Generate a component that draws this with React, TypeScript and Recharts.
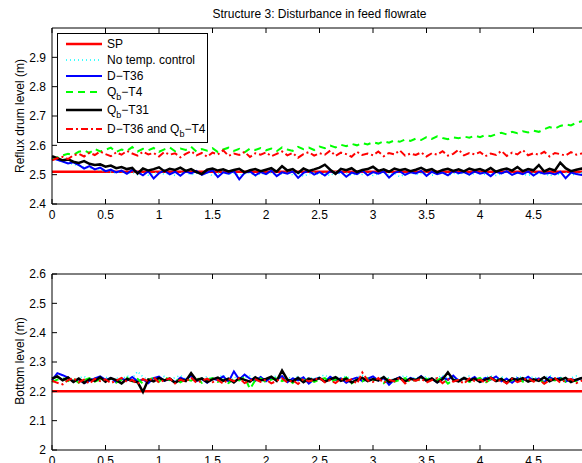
import React from 'react';
import { LineChart, Line, XAxis, YAxis } from 'recharts';

const FONT = '"Liberation Sans", Arial, Helvetica, sans-serif';

// time axis (h)
const timeHours = [
  0, 0.05, 0.1, 0.15, 0.2, 0.25, 0.3, 0.35, 0.4, 0.45,
  0.5, 0.55, 0.6, 0.65, 0.7, 0.75, 0.8, 0.85, 0.9, 0.95,
  1, 1.05, 1.1, 1.15, 1.2, 1.25, 1.3, 1.35, 1.4, 1.45,
  1.5, 1.55, 1.6, 1.65, 1.7, 1.75, 1.8, 1.85, 1.9, 1.95,
  2, 2.05, 2.1, 2.15, 2.2, 2.25, 2.3, 2.35, 2.4, 2.45,
  2.5, 2.55, 2.6, 2.65, 2.7, 2.75, 2.8, 2.85, 2.9, 2.95,
  3, 3.05, 3.1, 3.15, 3.2, 3.25, 3.3, 3.35, 3.4, 3.45,
  3.5, 3.55, 3.6, 3.65, 3.7, 3.75, 3.8, 3.85, 3.9, 3.95,
  4, 4.05, 4.1, 4.15, 4.2, 4.25, 4.3, 4.35, 4.4, 4.45,
  4.5, 4.55, 4.6, 4.65, 4.7, 4.75, 4.8, 4.85, 4.9, 4.95,
  5,
];

// the 5 h tick sits just past the right edge of the picture
const xTicks = [0, 0.5, 1, 1.5, 2, 2.5, 3, 3.5, 4, 4.5];
const topYTicks = [2.4, 2.5, 2.6, 2.7, 2.8, 2.9];
const bottomYTicks = [2, 2.1, 2.2, 2.3, 2.4, 2.5, 2.6];

const topSetpoint = 2.51;
const bottomSetpoint = 2.2;

// reflux drum level (m)
const topNoControl = [
  2.557, 2.549, 2.544, 2.539, 2.535, 2.530, 2.526, 2.522, 2.519, 2.515,
  2.512, 2.509, 2.506, 2.511, 2.503, 2.508, 2.500, 2.507, 2.498, 2.505,
  2.509, 2.501, 2.506, 2.497, 2.504, 2.510, 2.499, 2.505, 2.502, 2.508,
  2.496, 2.504, 2.509, 2.500, 2.506, 2.498, 2.503, 2.507, 2.495, 2.505,
  2.501, 2.508, 2.497, 2.504, 2.510, 2.499, 2.506, 2.494, 2.503, 2.507,
  2.500, 2.505, 2.496, 2.509, 2.502, 2.506, 2.498, 2.504, 2.501, 2.508,
  2.497, 2.503, 2.507, 2.499, 2.505, 2.493, 2.502, 2.508, 2.500, 2.504,
  2.506, 2.498, 2.503, 2.509, 2.496, 2.505, 2.501, 2.507, 2.499, 2.504,
  2.508, 2.500, 2.505, 2.497, 2.503, 2.510, 2.499, 2.506, 2.502, 2.497,
  2.505, 2.501, 2.508, 2.495, 2.504, 2.500, 2.507, 2.498, 2.503, 2.506,
  2.501,
];
const topDT36 = [
  2.558, 2.551, 2.545, 2.538, 2.542, 2.533, 2.521, 2.529, 2.518, 2.524,
  2.512, 2.517, 2.508, 2.514, 2.503, 2.516, 2.509, 2.498, 2.512, 2.487,
  2.505, 2.514, 2.501, 2.510, 2.496, 2.511, 2.504, 2.513, 2.499, 2.507,
  2.515, 2.492, 2.508, 2.503, 2.512, 2.484, 2.506, 2.511, 2.498, 2.509,
  2.502, 2.514, 2.495, 2.508, 2.503, 2.511, 2.489, 2.506, 2.513, 2.500,
  2.509, 2.497, 2.512, 2.504, 2.510, 2.493, 2.507, 2.502, 2.514, 2.498,
  2.509, 2.503, 2.511, 2.490, 2.506, 2.512, 2.499, 2.508, 2.504, 2.513,
  2.496, 2.510, 2.502, 2.507, 2.498, 2.512, 2.505, 2.509, 2.500, 2.511,
  2.503, 2.508, 2.495, 2.510, 2.504, 2.512, 2.499, 2.507, 2.502, 2.511,
  2.497, 2.509, 2.503, 2.506, 2.501, 2.510, 2.488, 2.507, 2.502, 2.499,
  2.506,
];
const topQbT4 = [
  2.551, 2.559, 2.566, 2.571, 2.568, 2.578, 2.583, 2.574, 2.588, 2.579,
  2.585, 2.592, 2.577, 2.586, 2.581, 2.594, 2.579, 2.588, 2.583, 2.591,
  2.578, 2.586, 2.593, 2.580, 2.589, 2.584, 2.595, 2.579, 2.587, 2.582,
  2.590, 2.577, 2.586, 2.592, 2.581, 2.588, 2.576, 2.589, 2.584, 2.591,
  2.583, 2.589, 2.580, 2.593, 2.586, 2.581, 2.595, 2.587, 2.592, 2.584,
  2.596, 2.590, 2.599, 2.593, 2.602, 2.597, 2.605, 2.600, 2.608, 2.603,
  2.611, 2.606, 2.614, 2.609, 2.617, 2.612, 2.620, 2.615, 2.623, 2.618,
  2.628, 2.622, 2.631, 2.625, 2.621, 2.627, 2.624, 2.630, 2.626, 2.633,
  2.628, 2.635, 2.631, 2.638, 2.643, 2.637, 2.646, 2.641, 2.648, 2.644,
  2.650, 2.646, 2.655, 2.662, 2.657, 2.666, 2.671, 2.668, 2.677, 2.682,
  2.679,
];
const topQbT31 = [
  2.563, 2.556, 2.549, 2.552, 2.544, 2.540, 2.546, 2.537, 2.533, 2.535,
  2.527, 2.531, 2.522, 2.526, 2.519, 2.523, 2.504, 2.521, 2.514, 2.519,
  2.525, 2.512, 2.520, 2.516, 2.524, 2.513, 2.519, 2.509, 2.502, 2.517,
  2.521, 2.514, 2.518, 2.511, 2.516, 2.520, 2.508, 2.515, 2.519, 2.512,
  2.517, 2.522, 2.510, 2.529, 2.514, 2.519, 2.506, 2.521, 2.513, 2.518,
  2.524, 2.534, 2.517, 2.503, 2.520, 2.515, 2.522, 2.509, 2.516, 2.519,
  2.527, 2.513, 2.518, 2.510, 2.521, 2.515, 2.519, 2.512, 2.517, 2.523,
  2.514, 2.519, 2.508, 2.516, 2.520, 2.513, 2.518, 2.511, 2.521, 2.515,
  2.519, 2.512, 2.523, 2.510, 2.517, 2.521, 2.514, 2.526, 2.512, 2.519,
  2.515, 2.533, 2.511, 2.520, 2.514, 2.541, 2.522, 2.512, 2.517, 2.521,
  2.516,
];
const topBoth = [
  2.549, 2.556, 2.561, 2.553, 2.566, 2.571, 2.562, 2.575, 2.567, 2.579,
  2.570, 2.563, 2.576, 2.568, 2.581, 2.572, 2.565, 2.578, 2.569, 2.574,
  2.562, 2.577, 2.568, 2.573, 2.559, 2.571, 2.580, 2.566, 2.574, 2.561,
  2.575, 2.569, 2.583, 2.564, 2.572, 2.567, 2.578, 2.560, 2.573, 2.568,
  2.576, 2.563, 2.571, 2.579, 2.566, 2.574, 2.558, 2.570, 2.577, 2.565,
  2.573, 2.568, 2.582, 2.564, 2.575, 2.570, 2.561, 2.578, 2.567, 2.572,
  2.566, 2.579, 2.563, 2.574, 2.569, 2.583, 2.565, 2.572, 2.567, 2.576,
  2.562, 2.573, 2.568, 2.580, 2.565, 2.571, 2.585, 2.566, 2.574, 2.569,
  2.577, 2.563, 2.572, 2.567, 2.581, 2.564, 2.575, 2.569, 2.584, 2.566,
  2.573, 2.568, 2.578, 2.562, 2.574, 2.570, 2.565, 2.577, 2.568, 2.572,
  2.569,
];

// bottom level (m)
const bottomNoControl = [
  2.246, 2.252, 2.240, 2.248, 2.237, 2.245, 2.251, 2.239, 2.247, 2.242,
  2.250, 2.238, 2.246, 2.241, 2.253, 2.244, 2.268, 2.249, 2.240, 2.247,
  2.243, 2.251, 2.238, 2.247, 2.254, 2.242, 2.249, 2.236, 2.245, 2.250,
  2.241, 2.248, 2.255, 2.243, 2.250, 2.239, 2.246, 2.252, 2.244, 2.249,
  2.237, 2.246, 2.253, 2.241, 2.248, 2.244, 2.251, 2.239, 2.247, 2.243,
  2.250, 2.256, 2.242, 2.249, 2.245, 2.252, 2.240, 2.248, 2.254, 2.243,
  2.247, 2.241, 2.251, 2.245, 2.238, 2.249, 2.253, 2.242, 2.248, 2.244,
  2.251, 2.239, 2.246, 2.255, 2.243, 2.249, 2.241, 2.247, 2.252, 2.244,
  2.240, 2.248, 2.253, 2.242, 2.249, 2.245, 2.238, 2.251, 2.246, 2.243,
  2.250, 2.241, 2.247, 2.254, 2.244, 2.249, 2.239, 2.246, 2.252, 2.243,
  2.248,
];
const bottomDT36 = [
  2.238, 2.262, 2.255, 2.247, 2.233, 2.241, 2.228, 2.236, 2.244, 2.251,
  2.239, 2.246, 2.231, 2.243, 2.237, 2.249, 2.234, 2.241, 2.228, 2.245,
  2.250, 2.236, 2.243, 2.231, 2.247, 2.239, 2.253, 2.235, 2.242, 2.229,
  2.244, 2.238, 2.251, 2.233, 2.268, 2.240, 2.257, 2.243, 2.236, 2.249,
  2.234, 2.247, 2.239, 2.252, 2.231, 2.244, 2.237, 2.248, 2.226, 2.241,
  2.246, 2.233, 2.250, 2.238, 2.244, 2.229, 2.241, 2.247, 2.235, 2.243,
  2.251, 2.237, 2.245, 2.222, 2.240, 2.248, 2.233, 2.246, 2.239, 2.252,
  2.236, 2.243, 2.230, 2.247, 2.239, 2.254, 2.235, 2.244, 2.238, 2.249,
  2.232, 2.246, 2.240, 2.251, 2.234, 2.243, 2.229, 2.245, 2.238, 2.250,
  2.236, 2.244, 2.231, 2.248, 2.239, 2.246, 2.233, 2.242, 2.237, 2.245,
  2.240,
];
const bottomQbT4 = [
  2.232, 2.240, 2.246, 2.235, 2.243, 2.229, 2.238, 2.245, 2.233, 2.241,
  2.236, 2.244, 2.230, 2.239, 2.247, 2.234, 2.242, 2.226, 2.240, 2.246,
  2.233, 2.250, 2.238, 2.244, 2.231, 2.241, 2.236, 2.248, 2.229, 2.239,
  2.245, 2.232, 2.240, 2.228, 2.243, 2.237, 2.249, 2.208, 2.238, 2.244,
  2.231, 2.240, 2.246, 2.235, 2.242, 2.229, 2.247, 2.236, 2.243, 2.232,
  2.239, 2.245, 2.230, 2.241, 2.236, 2.248, 2.227, 2.240, 2.234, 2.244,
  2.237, 2.242, 2.228, 2.246, 2.233, 2.239, 2.245, 2.230, 2.241, 2.236,
  2.243, 2.231, 2.238, 2.247, 2.226, 2.240, 2.235, 2.244, 2.232, 2.239,
  2.246, 2.229, 2.241, 2.236, 2.243, 2.231, 2.238, 2.245, 2.233, 2.240,
  2.235, 2.243, 2.228, 2.241, 2.237, 2.246, 2.232, 2.240, 2.234, 2.242,
  2.237,
];
const bottomQbT31 = [
  2.243, 2.251, 2.238, 2.247, 2.232, 2.244, 2.229, 2.241, 2.236, 2.248,
  2.233, 2.245, 2.238, 2.227, 2.242, 2.236, 2.231, 2.198, 2.240, 2.234,
  2.246, 2.237, 2.243, 2.229, 2.240, 2.235, 2.262, 2.238, 2.244, 2.232,
  2.241, 2.247, 2.236, 2.243, 2.230, 2.245, 2.239, 2.233, 2.248, 2.237,
  2.242, 2.250, 2.236, 2.271, 2.240, 2.234, 2.246, 2.231, 2.243, 2.238,
  2.245, 2.233, 2.241, 2.248, 2.236, 2.243, 2.230, 2.239, 2.246, 2.235,
  2.242, 2.237, 2.249, 2.232, 2.240, 2.246, 2.234, 2.243, 2.238, 2.250,
  2.236, 2.244, 2.231, 2.241, 2.265, 2.239, 2.234, 2.246, 2.237, 2.243,
  2.232, 2.240, 2.247, 2.235, 2.242, 2.229, 2.244, 2.238, 2.245, 2.233,
  2.241, 2.236, 2.248, 2.234, 2.243, 2.239, 2.246, 2.232, 2.240, 2.245,
  2.238,
];
const bottomBoth = [
  2.236, 2.229, 2.224, 2.238, 2.245, 2.231, 2.240, 2.226, 2.243, 2.235,
  2.241, 2.228, 2.237, 2.246, 2.232, 2.239, 2.225, 2.242, 2.234, 2.248,
  2.230, 2.238, 2.244, 2.227, 2.240, 2.233, 2.247, 2.229, 2.236, 2.243,
  2.231, 2.239, 2.226, 2.242, 2.235, 2.245, 2.228, 2.237, 2.241, 2.232,
  2.240, 2.227, 2.236, 2.244, 2.230, 2.238, 2.225, 2.242, 2.234, 2.239,
  2.246, 2.231, 2.238, 2.228, 2.243, 2.235, 2.241, 2.226, 2.264, 2.237,
  2.232, 2.245, 2.229, 2.239, 2.234, 2.247, 2.227, 2.240, 2.236, 2.243,
  2.230, 2.238, 2.245, 2.228, 2.241, 2.233, 2.239, 2.226, 2.244, 2.235,
  2.240, 2.229, 2.246, 2.234, 2.238, 2.227, 2.243, 2.231, 2.239, 2.244,
  2.233, 2.241, 2.226, 2.237, 2.245, 2.230, 2.238, 2.242, 2.228, 2.236,
  2.234,
];

const topRows = timeHours.map((t, i) => ({
  t,
  sp: topSetpoint,
  noCtrl: topNoControl[i],
  dT36: topDT36[i],
  qbT4: topQbT4[i],
  qbT31: topQbT31[i],
  both: topBoth[i],
}));

const bottomRows = timeHours.map((t, i) => ({
  t,
  sp: bottomSetpoint,
  noCtrl: bottomNoControl[i],
  dT36: bottomDT36[i],
  qbT4: bottomQbT4[i],
  qbT31: bottomQbT31[i],
  both: bottomBoth[i],
}));

type SeriesStyle = { key: string; color: string; width: number; dash?: string };

const SERIES: SeriesStyle[] = [
  { key: 'sp', color: '#ff0000', width: 2.5 },
  { key: 'noCtrl', color: '#00ffff', width: 1.5, dash: '1 3' },
  { key: 'dT36', color: '#0000ff', width: 2 },
  { key: 'qbT4', color: '#00ff00', width: 2, dash: '7 5' },
  { key: 'qbT31', color: '#000000', width: 2.5 },
  { key: 'both', color: '#ff0000', width: 2, dash: '7 3 2 3' },
];

const Sub = ({ children }: { children: React.ReactNode }) => (
  <span style={{ fontSize: 9, position: 'relative', top: 4 }}>{children}</span>
);

const legendLabels: Record<string, React.ReactNode> = {
  sp: 'SP',
  noCtrl: 'No temp. control',
  dT36: 'D\u2212T36',
  qbT4: <>Q<Sub>b</Sub>{'\u2212T4'}</>,
  qbT31: <>Q<Sub>b</Sub>{'\u2212T31'}</>,
  both: <>D{'\u2212T36 and Q'}<Sub>b</Sub>{'\u2212T4'}</>,
};

// vertical centre of each legend row inside the box
const legendRowY = [10, 26, 42, 58, 76, 95];

const tickStyle = { fill: '#000', fontSize: 12, fontFamily: FONT };

function Panel({ rows, domain, ticks }: { rows: any[]; domain: [number, number]; ticks: number[] }) {
  return (
    <LineChart width={600} height={230} data={rows} margin={{ top: 27, right: 13, bottom: 0, left: 0 }}>
      <XAxis
        dataKey="t"
        type="number"
        domain={[0, 5]}
        ticks={xTicks}
        interval={0}
        height={26}
        stroke="#000"
        tickSize={-5}
        tickMargin={11}
        tick={tickStyle}
      />
      <XAxis
        xAxisId="top"
        orientation="top"
        dataKey="t"
        type="number"
        domain={[0, 5]}
        ticks={xTicks}
        interval={0}
        height={1}
        stroke="#000"
        tickSize={-5}
        tickFormatter={() => ''}
      />
      <YAxis
        type="number"
        domain={domain}
        ticks={ticks}
        interval={0}
        width={52}
        stroke="#000"
        tickSize={-5}
        tickMargin={11}
        tick={tickStyle}
      />
      {SERIES.map((s) => (
        <Line
          key={s.key}
          dataKey={s.key}
          type="linear"
          stroke={s.color}
          strokeWidth={s.width}
          strokeDasharray={s.dash}
          dot={false}
          activeDot={false}
          isAnimationActive={false}
        />
      ))}
    </LineChart>
  );
}

export default function App() {
  return (
    <div
      style={{
        position: 'fixed',
        left: 0,
        top: 0,
        width: 582,
        height: 463,
        overflow: 'hidden',
        background: '#fff',
        fontFamily: FONT,
        color: '#000',
      }}
    >
      <div style={{ position: 'absolute', left: 52, top: 7, width: 535, textAlign: 'center', fontSize: 12, lineHeight: '14px' }}>
        Structure 3: Disturbance in feed flowrate
      </div>

      <div style={{ position: 'absolute', left: 0, top: 0 }}>
        <Panel rows={topRows} domain={[2.4, 3]} ticks={topYTicks} />
      </div>
      <div style={{ position: 'absolute', left: 0, top: 246 }}>
        <Panel rows={bottomRows} domain={[2, 2.6]} ticks={bottomYTicks} />
      </div>

      <div style={{ position: 'absolute', left: 20, top: 116, transform: 'translate(-50%, -50%) rotate(-90deg)', whiteSpace: 'nowrap', fontSize: 12 }}>
        Reflux drum level (m)
      </div>
      <div style={{ position: 'absolute', left: 20, top: 361, transform: 'translate(-50%, -50%) rotate(-90deg)', whiteSpace: 'nowrap', fontSize: 12 }}>
        Bottom level (m)
      </div>

      <div
        style={{
          position: 'absolute',
          left: 57,
          top: 33,
          width: 151,
          height: 110,
          border: '1px solid #000',
          background: '#fff',
          boxSizing: 'border-box',
          fontSize: 12,
        }}
      >
        {SERIES.map((s, i) => (
          <div key={s.key} style={{ position: 'absolute', left: 0, top: legendRowY[i] - 7, height: 14, width: '100%' }}>
            <svg width={38} height={14} style={{ position: 'absolute', left: 7, top: 0 }}>
              <line x1={1} y1={7} x2={37} y2={7} stroke={s.color} strokeWidth={s.width} strokeDasharray={s.dash} />
            </svg>
            <div style={{ position: 'absolute', left: 49, top: 0, lineHeight: '14px', whiteSpace: 'nowrap' }}>
              {legendLabels[s.key]}
            </div>
          </div>
        ))}
      </div>
    </div>
  );
}
